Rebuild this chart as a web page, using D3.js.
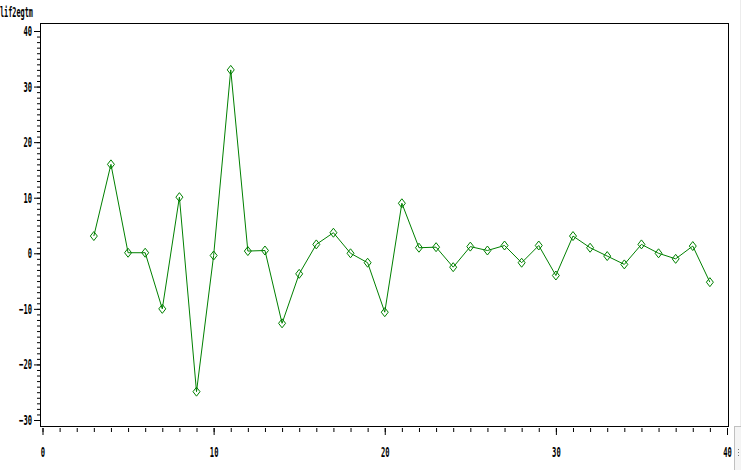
<!DOCTYPE html>
<html>
<head>
<meta charset="utf-8">
<script src="https://d3js.org/d3.v7.min.js"></script>
<style>
  body { margin: 0; background: #fff; }
  text { font-family: "DejaVu Sans Mono", monospace; font-size: 14px; fill: #000; }
</style>
</head>
<body>
<div id="chart"></div>
<script>
// series
var lags = [3,4,5,6,7,8,9,10,11,12,13,14,15,16,17,18,19,20,21,
            22,23,24,25,26,27,28,29,30,31,32,33,34,35,36,37,38,39];
var dif2egtm = [3.1,16.0,0.1,0.1,-10.0,10.1,-24.9,-0.4,33.0,0.4,0.5,-12.6,-3.7,1.6,3.7,0.0,-1.7,-10.6,9.0,
                1.0,1.1,-2.5,1.2,0.5,1.4,-1.7,1.4,-4.0,3.1,1.0,-0.5,-2.0,1.6,0.0,-1.0,1.3,-5.2];
var xTicks = [0,10,20,30,40];
var yTicks = [-30,-20,-10,0,10,20,30,40];
var yLabel = "lif2egtm";

var W = 741, H = 470;
var svg = d3.select("#chart").append("svg")
    .attr("width", W)
    .attr("height", H);

var x = d3.scaleLinear().domain([0, 40]).range([42.5, 727]);
var y = d3.scaleLinear().domain([-30, 40]).range([420, 31]);

// frame
svg.append("rect")
    .attr("x", 40.5).attr("y", 23.5)
    .attr("width", 728 - 40).attr("height", 426 - 23)
    .attr("fill", "none").attr("stroke", "#000");

function squeeze(sel, per) {
  sel.each(function() {
    var t = d3.select(this);
    var n = t.text().length;
    t.attr("textLength", n * per).attr("lengthAdjust", "spacingAndGlyphs")
     .attr("fill", "#000").style("font-weight", "bold");
  });
}

// x axis (hangs just below the frame)
var gx = svg.append("g").attr("transform", "translate(0,428)");
gx.append("g").call(d3.axisBottom(x).tickValues(d3.range(0, 41)).tickSize(4).tickFormat(""));
var gxMajor = gx.append("g").call(d3.axisBottom(x).tickValues(xTicks).tickSize(7).tickPadding(12));
gx.selectAll(".domain").remove();
gx.selectAll("line").attr("stroke", "#000");
squeeze(gxMajor.selectAll("text"), 4.3);

// y axis
var gy = svg.append("g").attr("transform", "translate(40,0)");
gy.append("g").call(d3.axisLeft(y).tickValues(d3.range(-30, 41)).tickSize(3).tickFormat(""));
var gyMajor = gy.append("g").call(d3.axisLeft(y).tickValues(yTicks).tickSize(6).tickPadding(2));
gy.selectAll(".domain").remove();
gy.selectAll("line").attr("stroke", "#000");
squeeze(gyMajor.selectAll("text"), 4.3);

svg.append("text")
    .attr("x", 0).attr("y", 17)
    .attr("textLength", 33).attr("lengthAdjust", "spacingAndGlyphs")
    .style("font-weight", "bold")
    .text(yLabel);

// series line
var pts = lags.map(function(d, i) { return [d, dif2egtm[i]]; });
svg.append("path")
    .datum(pts)
    .attr("fill", "none")
    .attr("stroke", "#008000")
    .attr("stroke-width", 1)
    .attr("d", d3.line().x(function(d) { return x(d[0]); }).y(function(d) { return y(d[1]); }));

// diamond markers
svg.append("g").selectAll("path.mk")
    .data(pts)
    .enter().append("path")
    .attr("class", "mk")
    .attr("transform", function(d) { return "translate(" + x(d[0]) + "," + y(d[1]) + ")"; })
    .attr("d", "M0,-4.5L3.5,0L0,4.5L-3.5,0Z")
    .attr("fill", "none")
    .attr("stroke", "#008000")
    .attr("stroke-width", 1);

// window edge on the right
svg.append("rect").attr("x", 740).attr("y", 0).attr("width", 1).attr("height", H).attr("fill", "#ececec");
svg.append("rect").attr("x", 734.5).attr("y", 426.5).attr("width", 7).attr("height", 44)
    .attr("fill", "#f4f4f4").attr("stroke", "#c0c0c0");
svg.append("g").selectAll("rect")
    .data([449, 452, 455])
    .enter().append("rect")
    .attr("x", 738).attr("y", function(d) { return d; })
    .attr("width", 1).attr("height", 1).attr("fill", "#777");
</script>
</body>
</html>
